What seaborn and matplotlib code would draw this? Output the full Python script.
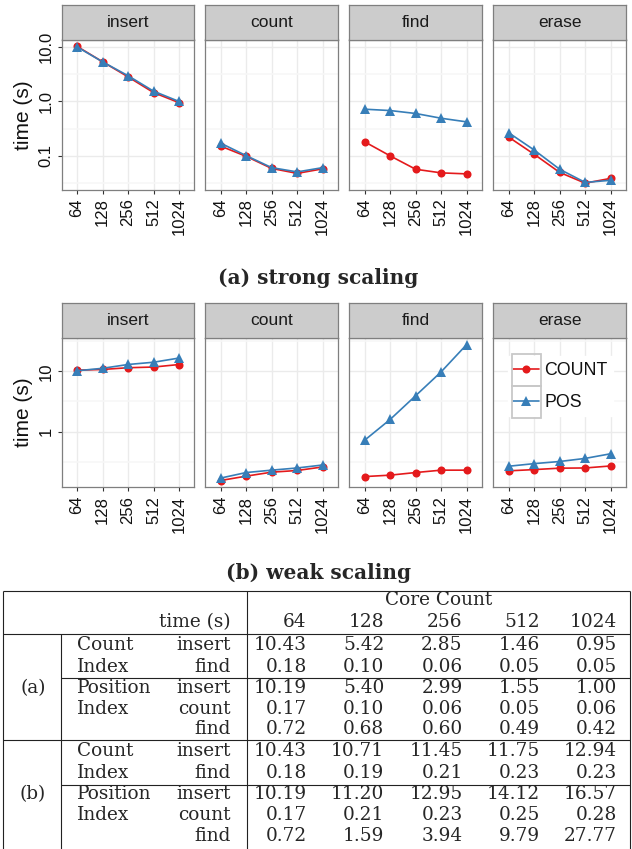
import numpy as np
import pandas as pd
import matplotlib
matplotlib.use("Agg")
import matplotlib.pyplot as plt
from matplotlib.patches import Rectangle
import seaborn as sns

cores = [64, 128, 256, 512, 1024]
ops = ["insert", "count", "find", "erase"]
indexes = ["COUNT", "POS"]

# (a) strong scaling, time in s
strong_count_insert = [10.43, 5.42, 2.85, 1.46, 0.95]
strong_count_count = [0.15, 0.097, 0.058, 0.047, 0.057]
strong_count_find = [0.18, 0.099, 0.056, 0.048, 0.046]
strong_count_erase = [0.22, 0.106, 0.049, 0.031, 0.038]
strong_pos_insert = [10.19, 5.40, 2.99, 1.55, 1.00]
strong_pos_count = [0.17, 0.10, 0.06, 0.05, 0.06]
strong_pos_find = [0.72, 0.68, 0.60, 0.49, 0.42]
strong_pos_erase = [0.265, 0.127, 0.056, 0.032, 0.035]

# (b) weak scaling
weak_count_insert = [10.43, 10.71, 11.45, 11.75, 12.94]
weak_count_count = [0.155, 0.183, 0.213, 0.227, 0.26]
weak_count_find = [0.18, 0.19, 0.21, 0.23, 0.23]
weak_count_erase = [0.224, 0.235, 0.248, 0.25, 0.27]
weak_pos_insert = [10.19, 11.20, 12.95, 14.12, 16.57]
weak_pos_count = [0.17, 0.21, 0.23, 0.25, 0.28]
weak_pos_find = [0.72, 1.59, 3.94, 9.79, 27.77]
weak_pos_erase = [0.267, 0.295, 0.32, 0.36, 0.43]

strong = {
    "COUNT": [strong_count_insert, strong_count_count, strong_count_find, strong_count_erase],
    "POS": [strong_pos_insert, strong_pos_count, strong_pos_find, strong_pos_erase],
}
weak = {
    "COUNT": [weak_count_insert, weak_count_count, weak_count_find, weak_count_erase],
    "POS": [weak_pos_insert, weak_pos_count, weak_pos_find, weak_pos_erase],
}

rows = []
for scaling, d in [("strong", strong), ("weak", weak)]:
    for idx in indexes:
        for op, vals in zip(ops, d[idx]):
            for c, v in zip(cores, vals):
                rows.append((scaling, op, idx, c, v))
df = pd.DataFrame(rows, columns=["scaling", "op", "index", "cores", "time"])
df["pos"] = df["cores"].map({c: i for i, c in enumerate(cores)})

sns.set_theme(style="white")
plt.rcParams["font.family"] = ["Liberation Sans", "DejaVu Sans"]

W, H = 632, 849
fig = plt.figure(figsize=(W / 100, H / 100), dpi=100)


def rect(x0, y0, x1, y1):
    return [x0 / W, 1 - y1 / H, (x1 - x0) / W, (y1 - y0) / H]


palette = {"COUNT": "#E41A1C", "POS": "#377EB8"}
panel_x = [61.7, 205.3, 349.3, 493.3]
panel_w = 132.7
grey50 = "#7F7F7F"

row_layout = {
    "strong": dict(strip=5.3, top=39.5, bottom=190, ticks=[0.1, 1, 10],
                   labels=["0.1", "1.0", "10.0"], minor=[10 ** -1.5, 10 ** -0.5, 10 ** 0.5]),
    "weak": dict(strip=303.3, top=337.7, bottom=487.3, ticks=[1, 10],
                 labels=["1", "10"], minor=[10 ** -0.5, 10 ** 0.5, 10 ** 1.5]),
}

legend_ax = None
for scaling, lay in row_layout.items():
    sub_s = df[df["scaling"] == scaling]
    lo, hi = np.log10(sub_s["time"].min()), np.log10(sub_s["time"].max())
    pad = 0.05 * (hi - lo)
    for i, op in enumerate(ops):
        x0 = panel_x[i]
        ax = fig.add_axes(rect(x0, lay["top"], x0 + panel_w, lay["bottom"]))
        sub = sub_s[sub_s["op"] == op]
        sns.lineplot(data=sub, x="pos", y="time", hue="index", style="index",
                     hue_order=indexes, style_order=indexes, palette=palette,
                     markers={"COUNT": "o", "POS": "^"}, dashes=False,
                     markersize=5.8, markeredgewidth=0, linewidth=1.2,
                     errorbar=None, legend=False, ax=ax)
        for ln in ax.lines:
            if ln.get_marker() == "^":
                ln.set_markersize(7.2)
        ax.set_yscale("log")
        ax.set_ylim(10 ** (lo - pad), 10 ** (hi + pad))
        ax.set_xlim(-0.6, 4.6)
        ax.set_xticks(range(len(cores)), [str(c) for c in cores])
        ax.set_yticks(lay["ticks"], lay["labels"])
        ax.set_yticks(lay["minor"], minor=True)
        ax.yaxis.set_minor_formatter(matplotlib.ticker.NullFormatter())
        ax.set_xlabel("")
        ax.set_ylabel("")
        ax.set_axisbelow(True)
        ax.grid(which="major", color="#EBEBEB", lw=1.0)
        ax.grid(which="minor", axis="y", color="#F7F7F7", lw=1.2)
        for sp in ax.spines.values():
            sp.set_color(grey50)
            sp.set_linewidth(0.9)
        ax.tick_params(axis="x", which="major", length=3, width=0.8, color="#333333",
                       pad=3, labelsize=12, labelcolor="#111111", rotation=90, bottom=True)
        ax.tick_params(axis="y", which="minor", length=0, left=False)
        if i == 0:
            ax.tick_params(axis="y", which="major", length=3, width=0.8, color="#333333",
                           pad=3, labelsize=12, labelcolor="#111111", left=True)
            for t in ax.get_yticklabels():
                t.set_rotation(90)
                t.set_va("center")
                t.set_ha("right")
        else:
            ax.tick_params(axis="y", which="major", length=0, labelleft=False, left=False)
        if scaling == "weak" and op == "erase":
            legend_ax = ax

        sax = fig.add_axes(rect(x0, lay["strip"], x0 + panel_w, lay["top"]))
        sax.set_facecolor("#CCCCCC")
        sax.set_xticks([])
        sax.set_yticks([])
        for sp in sax.spines.values():
            sp.set_color(grey50)
            sp.set_linewidth(0.9)
        sax.text(0.5, 0.5, op, ha="center", va="center", fontsize=12.5,
                 color="#1A1A1A", transform=sax.transAxes)

    fig.text(23.3 / W, 1 - (lay["top"] + lay["bottom"]) / 2 / H, "time (s)",
             rotation=90, ha="center", va="center", fontsize=15, color="#111111")

# legend inside the weak/erase panel
leg = legend_ax.legend(legend_ax.lines[:2], indexes, loc="upper left",
                       bbox_to_anchor=(0.11, 0.875), frameon=True, facecolor="white",
                       edgecolor="white", framealpha=1, fancybox=False, fontsize=12.8,
                       handlelength=1.45, handletextpad=0.3, labelspacing=0.85,
                       borderpad=0.3, borderaxespad=0)
for t in leg.get_texts():
    t.set_color("#111111")

# table + captions on an overlay in pixel coordinates
tab = fig.add_axes([0, 0, 1, 1], zorder=-1)
tab.set_xlim(0, W)
tab.set_ylim(H, 0)
tab.axis("off")
tab.patch.set_alpha(0)

serif = ["DejaVu Serif"]
tab.text(318, 278, "(a) strong scaling", ha="center", va="center", fontsize=14.5,
         fontweight="bold", family=serif)
tab.text(319, 573, "(b) weak scaling", ha="center", va="center", fontsize=14.5,
         fontweight="bold", family=serif)

lc = "#222222"
lw = 0.8
tab.hlines([591, 634.3, 740], 3.3, 630, color=lc, lw=lw)
tab.hlines([677.7, 785], 61, 630, color=lc, lw=lw)
tab.vlines([3.3, 246.7, 630], 591, H, color=lc, lw=lw)
tab.vlines([61], 634.3, H, color=lc, lw=lw)

col_right = [306.7, 384.3, 462.7, 540, 616.7]
fs = 13.3
tab.text(439, 600, "Core Count", ha="center", va="center", fontsize=fs, family=serif)
tab.text(231, 622, "time (s)", ha="right", va="center", fontsize=fs, family=serif)
for x, c in zip(col_right, cores):
    tab.text(x, 622, str(c), ha="right", va="center", fontsize=fs, family=serif)

row_names = ["Count", "Index", "Position", "Index", ""]
row_ops = ["insert", "find", "insert", "count", "find"]
groups = [
    ("(a)", [645.5, 666.5, 688, 708.5, 729],
     [strong_count_insert, strong_count_find, strong_pos_insert, strong_pos_count, strong_pos_find]),
    ("(b)", [751, 772.5, 794, 815, 836],
     [weak_count_insert, weak_count_find, weak_pos_insert, weak_pos_count, weak_pos_find]),
]
for glabel, ys, vals in groups:
    tab.text(33, ys[2], glabel, ha="center", va="center", fontsize=fs, family=serif)
    for y, name, op, v in zip(ys, row_names, row_ops, vals):
        tab.text(77.3, y, name, ha="left", va="center", fontsize=fs, family=serif)
        tab.text(231, y, op, ha="right", va="center", fontsize=fs, family=serif)
        for x, val in zip(col_right, v):
            tab.text(x, y, f"{val:.2f}", ha="right", va="center", fontsize=fs, family=serif)

# grey boxes around the legend keys
fig.canvas.draw()
renderer = fig.canvas.get_renderer()
tb = [t.get_window_extent(renderer) for t in leg.get_texts()]
pitch = (tb[0].y0 + tb[0].y1) / 2 - (tb[1].y0 + tb[1].y1) / 2
inv = fig.transFigure.inverted()
for h, t in zip(leg.legend_handles, tb):
    pts = h.get_transform().transform(h.get_xydata())
    hx0, hx1 = pts[:, 0].min(), pts[:, 0].max()
    cy = (t.y0 + t.y1) / 2
    (fx0, fy0), (fx1, fy1) = inv.transform([(hx0 - 1.5, cy - pitch / 2), (hx1 + 1.5, cy + pitch / 2)])
    fig.add_artist(Rectangle((fx0, fy0), fx1 - fx0, fy1 - fy0, fill=False, ec="#C8C8C8",
                             lw=1.3, transform=fig.transFigure, zorder=5))

fig.savefig("out.png", dpi=100)
